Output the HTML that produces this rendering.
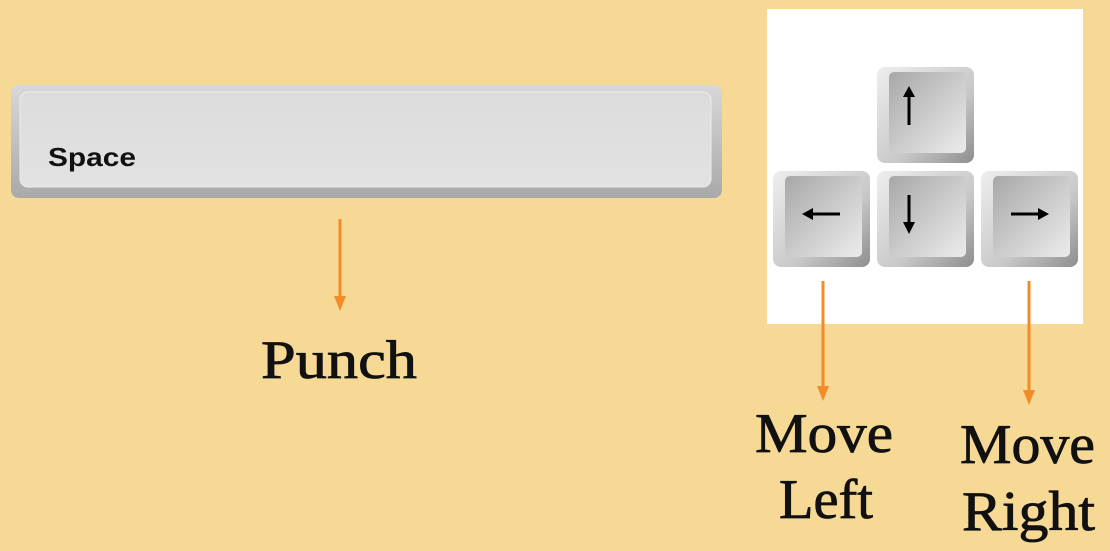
<!DOCTYPE html>
<html><head><meta charset="utf-8"><style>
html,body{margin:0;padding:0;background:#F7D996;}
svg{display:block}
text{font-family:"Liberation Serif","DejaVu Serif",serif;fill:#111;stroke:#111;stroke-width:0.8px;}
</style></head><body>
<svg width="1110" height="551" viewBox="0 0 1110 551" xmlns="http://www.w3.org/2000/svg">
<defs>
<linearGradient id="sb" x1="0" y1="0" x2="0" y2="1">
<stop offset="0" stop-color="#d8d8d8"/><stop offset="1" stop-color="#a9a9a9"/></linearGradient>
<linearGradient id="sf" x1="0" y1="0" x2="0" y2="1">
<stop offset="0" stop-color="#dcdcdc"/><stop offset="1" stop-color="#e2e2e2"/></linearGradient>
<linearGradient id="kb" x1="0" y1="0" x2="1" y2="1">
<stop offset="0" stop-color="#eeeeee"/><stop offset="0.6" stop-color="#c8c8c8"/><stop offset="1" stop-color="#8e8e8e"/></linearGradient>
<linearGradient id="kf" x1="0" y1="0" x2="1" y2="1">
<stop offset="0" stop-color="#a8a8a8"/><stop offset="1" stop-color="#ececec"/></linearGradient>
</defs>
<rect x="11" y="85" width="711" height="113" rx="8" fill="url(#sb)"/>
<rect x="20" y="92" width="691" height="95" rx="8" fill="url(#sf)" stroke="#ececec" stroke-width="1"/>
<text x="48" y="166" style="font-family:'Liberation Sans',sans-serif;font-weight:bold;font-size:26px;stroke:none" textLength="88" lengthAdjust="spacingAndGlyphs">Space</text>
<line x1="340" y1="219" x2="340" y2="302" stroke="#F28C28" stroke-width="3"/>
<path d="M334,296 L346,296 L340,311 Z" fill="#F28C28"/>
<text x="261" y="378" font-size="54" textLength="156" lengthAdjust="spacingAndGlyphs">Punch</text>
<rect x="767" y="9" width="316" height="315" fill="#fff"/>
<g>
<rect x="877" y="67" width="97" height="96" rx="8" fill="url(#kb)"/>
<rect x="889" y="72" width="77" height="81" rx="5" fill="url(#kf)"/>
<rect x="773" y="171" width="97" height="96" rx="8" fill="url(#kb)"/>
<rect x="785" y="176" width="77" height="81" rx="5" fill="url(#kf)"/>
<rect x="877" y="171" width="97" height="96" rx="8" fill="url(#kb)"/>
<rect x="889" y="176" width="77" height="81" rx="5" fill="url(#kf)"/>
<rect x="981" y="171" width="97" height="96" rx="8" fill="url(#kb)"/>
<rect x="993" y="176" width="77" height="81" rx="5" fill="url(#kf)"/>
</g>
<g stroke="#000" stroke-width="3" fill="#000">
<line x1="909" y1="96" x2="909" y2="125"/><path d="M903,97 L915,97 L909,86 Z" stroke="none"/>
<line x1="909" y1="195" x2="909" y2="224"/><path d="M903,222 L915,222 L909,234 Z" stroke="none"/>
<line x1="811" y1="214" x2="840" y2="214"/><path d="M813,208 L813,220 L802,214 Z" stroke="none"/>
<line x1="1011" y1="214" x2="1040" y2="214"/><path d="M1038,208 L1038,220 L1049,214 Z" stroke="none"/>
</g>
<line x1="823" y1="281" x2="823" y2="390" stroke="#F28C28" stroke-width="3"/>
<path d="M817,386 L829,386 L823,401 Z" fill="#F28C28"/>
<line x1="1029" y1="281" x2="1029" y2="394" stroke="#F28C28" stroke-width="3"/>
<path d="M1023,390 L1035,390 L1029,405 Z" fill="#F28C28"/>
<text x="755" y="452" font-size="56" textLength="138" lengthAdjust="spacingAndGlyphs">Move</text>
<text x="779" y="518" font-size="56" textLength="94" lengthAdjust="spacingAndGlyphs">Left</text>
<text x="960" y="463" font-size="56" textLength="135" lengthAdjust="spacingAndGlyphs">Move</text>
<text x="962" y="530" font-size="56" textLength="133" lengthAdjust="spacingAndGlyphs">Right</text>
</svg>
</body></html>
